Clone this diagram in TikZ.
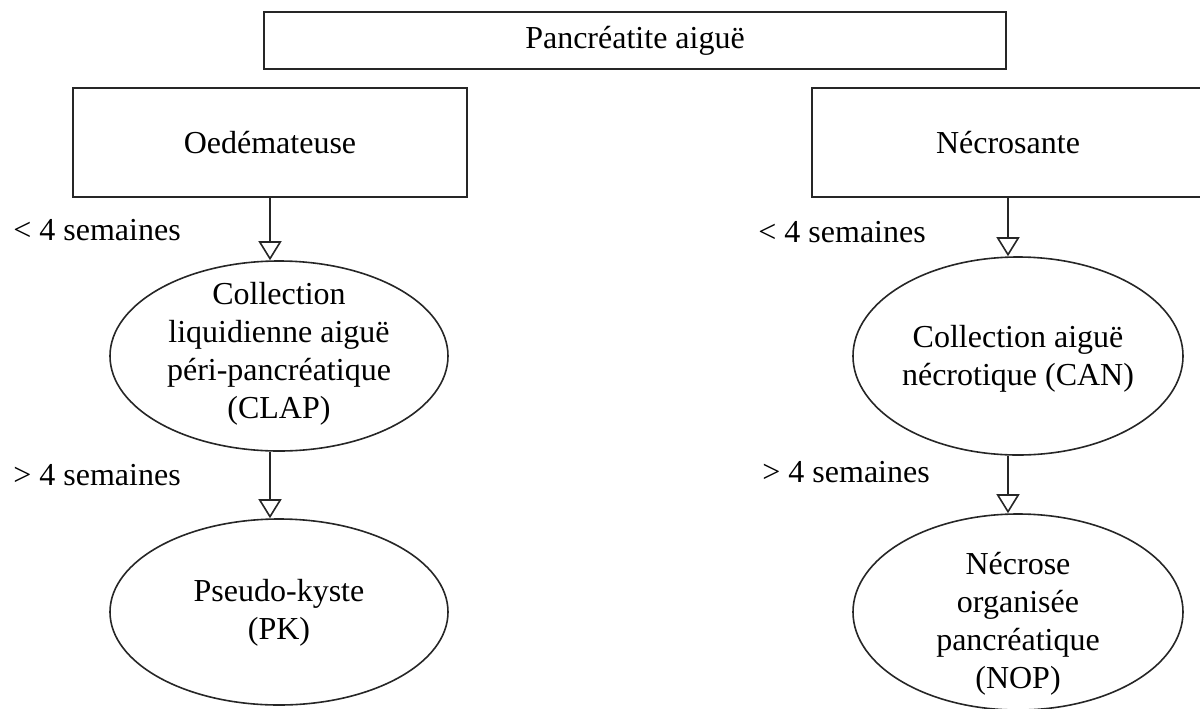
\documentclass[tikz,border=0pt]{standalone}
\usepackage{fontspec}
\setmainfont{Liberation Serif}
\usetikzlibrary{shapes.geometric,arrows.meta}
\begin{document}
\begin{tikzpicture}[x=0.5pt,y=-0.5pt,
  every node/.style={font=\fontsize{16}{19}\selectfont, text=black},
  box/.style={draw=black!85, line width=0.9pt, inner sep=0pt},
  ell/.style={draw=black!85, ellipse, line width=0.8pt, inner sep=0pt},
  txt/.style={align=center, inner sep=0pt},
  lbl/.style={anchor=west, inner sep=0pt},
  arr/.style={draw=black!85, line width=0.8pt, -{Triangle[open, length=9.5pt, width=11.5pt]}}]
\useasboundingbox (0,0) rectangle (1200,708);
\clip (0,0) rectangle (1200,708);
% boxes
\node[box, minimum width=371pt, minimum height=28.5pt] (top) at (635,40.5) {Pancréatite aiguë};
\node[box, minimum width=197pt, minimum height=54.5pt] (oed) at (270,142.5) {Oedémateuse};
\node[box, minimum width=196pt, minimum height=54.5pt] (nec) at (1008,142.5) {Nécrosante};
% ellipses
\node[ell, minimum width=169pt, minimum height=95pt] (clap) at (279,356) {};
\node[ell, minimum width=169pt, minimum height=93pt] (pk) at (279,612) {};
\node[ell, minimum width=165pt, minimum height=99pt] (can) at (1018,356) {};
\node[ell, minimum width=165pt, minimum height=98pt] (nop) at (1018,612) {};
% texts in ellipses
\node[txt] (claptxt) at (279,354) {Collection\\liquidienne aiguë\\péri-pancréatique\\(CLAP)};
\node[txt] (pktxt) at (279,613) {Pseudo-kyste\\(PK)};
\node[txt] (cantxt) at (1018,359) {Collection aiguë\\nécrotique (CAN)};
\node[txt] (noptxt) at (1018,624) {Nécrose\\organisée\\pancréatique\\(NOP)};
% labels
\node[lbl] (l1) at (13,230) {< 4 semaines};
\node[lbl] (l2) at (758,232) {< 4 semaines};
\node[lbl] (l3) at (13,475) {> 4 semaines};
\node[lbl] (l4) at (762,472) {> 4 semaines};
% arrows
\draw[arr] (oed.south) -- (oed.south |- clap.north);
\draw[arr] (oed.south |- clap.south) -- (oed.south |- pk.north);
\draw[arr] (nec.south) -- (nec.south |- can.north);
\draw[arr] (nec.south |- can.south) -- (nec.south |- nop.north);
\end{tikzpicture}
\end{document}
